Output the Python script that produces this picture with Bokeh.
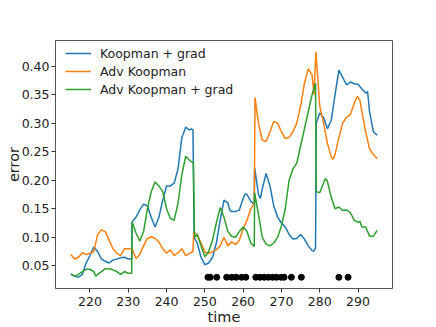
from bokeh.plotting import figure
from bokeh.models import FixedTicker, PrintfTickFormatter, Legend, LegendItem
from bokeh.embed import file_html
from bokeh.resources import INLINE

# Koopman + grad
t_blue = [215, 216, 217, 218, 219, 220, 221, 222, 223, 224, 225, 226, 228, 229, 230, 230.9,
          231.0, 232, 233, 234, 235, 236, 237, 238, 239, 240, 241, 242, 243, 244, 245, 246, 246.5, 246.9,
          247.2, 248, 249, 250, 251, 252, 253, 254, 255, 256, 256.5, 257, 258, 259, 260, 260.5, 261, 262, 262.9,
          263.0, 264, 264.5, 265, 266, 267, 268, 269, 270, 271, 272, 273, 274, 275, 276, 277, 278, 278.5, 278.9,
          279.1, 280, 281, 282, 283, 284, 285, 286, 287, 288, 289, 290, 291, 292, 292.5, 293, 294, 295]
e_blue = [0.036, 0.032, 0.030, 0.035, 0.055, 0.068, 0.083, 0.075, 0.062, 0.058, 0.055, 0.060, 0.064, 0.065, 0.062, 0.062,
          0.127, 0.135, 0.148, 0.158, 0.155, 0.135, 0.118, 0.135, 0.165, 0.190, 0.190, 0.195, 0.220, 0.275, 0.293, 0.288, 0.290, 0.288,
          0.100, 0.090, 0.065, 0.052, 0.055, 0.065, 0.090, 0.130, 0.165, 0.160, 0.148, 0.145, 0.145, 0.148, 0.168, 0.176, 0.175, 0.163, 0.158,
          0.222, 0.175, 0.168, 0.185, 0.212, 0.190, 0.155, 0.135, 0.125, 0.118, 0.105, 0.097, 0.098, 0.105, 0.097, 0.085, 0.077, 0.076, 0.082,
          0.300, 0.318, 0.310, 0.290, 0.305, 0.350, 0.393, 0.380, 0.367, 0.372, 0.369, 0.368, 0.360, 0.353, 0.355, 0.320, 0.285, 0.279]

# Adv Koopman
t_orange = [215, 216, 217, 218, 219, 220, 221, 222, 223, 224, 225, 226, 227, 228, 229, 230, 231, 232, 233, 234, 235, 236,
            237, 238, 239, 240, 241, 242, 243, 244, 245, 246, 246.9, 247.1, 248, 249, 250, 251, 252, 253, 254, 255, 256,
            257, 258, 259, 260, 261, 262, 262.9, 263.1, 264, 265, 266, 267, 268, 269, 270, 271, 272, 273, 274, 275, 276,
            277, 278, 278.5, 279, 280, 281, 282, 283, 283.5, 284, 285, 286, 287, 288, 289, 289.8, 290.5, 291, 292, 293, 294, 295]
e_orange = [0.070, 0.062, 0.065, 0.073, 0.070, 0.072, 0.075, 0.105, 0.113, 0.110, 0.095, 0.080, 0.072, 0.068, 0.080, 0.080, 0.080, 0.063, 0.070, 0.085, 0.098, 0.101,
            0.098, 0.092, 0.080, 0.072, 0.078, 0.068, 0.073, 0.080, 0.068, 0.072, 0.075, 0.108, 0.105, 0.090, 0.074, 0.072, 0.075, 0.078, 0.085, 0.100, 0.085,
            0.092, 0.087, 0.095, 0.115, 0.130, 0.150, 0.160, 0.345, 0.300, 0.270, 0.268, 0.285, 0.303, 0.300, 0.285, 0.273, 0.275, 0.285, 0.300, 0.330, 0.370,
            0.395, 0.385, 0.350, 0.425, 0.330, 0.300, 0.265, 0.240, 0.237, 0.245, 0.275, 0.300, 0.310, 0.315, 0.335, 0.347, 0.340, 0.320, 0.285, 0.255, 0.245, 0.238]

# Adv Koopman + grad
t_green = [215, 216, 217, 218, 219, 220, 221, 221.5, 222, 223, 224, 225, 226, 227, 228, 229, 230, 230.9, 231.0, 232, 233, 234,
           235, 236, 237, 238, 239, 240, 241, 242, 243, 244, 245, 246, 247, 247.3, 248, 249, 250, 251, 252, 253, 254, 255,
           256, 257, 258, 259, 260, 261, 262, 262.9, 263.0, 264, 265, 266, 267, 268, 269, 270, 271, 272, 273, 274, 275, 276,
           277, 278, 278.9, 279.1, 280, 281, 281.5, 282, 283, 284, 285, 286, 287, 288, 289, 290, 290.5, 291, 292, 293, 294, 295]
e_green = [0.035, 0.032, 0.035, 0.040, 0.044, 0.044, 0.040, 0.032, 0.035, 0.040, 0.045, 0.045, 0.043, 0.040, 0.035, 0.040, 0.037, 0.037, 0.127, 0.108, 0.093, 0.110,
           0.150, 0.180, 0.197, 0.190, 0.180, 0.150, 0.133, 0.130, 0.160, 0.210, 0.242, 0.235, 0.230, 0.100, 0.105, 0.085, 0.066, 0.075, 0.095, 0.125, 0.152, 0.135,
           0.110, 0.102, 0.100, 0.110, 0.118, 0.110, 0.090, 0.084, 0.178, 0.140, 0.100, 0.088, 0.085, 0.090, 0.100, 0.120, 0.150, 0.200, 0.220, 0.230, 0.260, 0.290,
           0.320, 0.350, 0.370, 0.180, 0.178, 0.195, 0.203, 0.198, 0.170, 0.150, 0.153, 0.147, 0.148, 0.143, 0.130, 0.126, 0.128, 0.118, 0.118, 0.102, 0.102, 0.112]

# marker times
t_marks = [250.8, 251.4, 253.1, 255.7, 257.0, 258.2, 259.6, 260.7, 263.3, 264.4, 265.5, 266.6,
           267.7, 268.7, 269.9, 270.7, 272.6, 275.2, 285.0, 287.4]
e_marks = [0.03] * len(t_marks)

x_ticks = [220, 230, 240, 250, 260, 270, 280, 290]
y_ticks = [0.05, 0.10, 0.15, 0.20, 0.25, 0.30, 0.35, 0.40]

p = figure(width=436, height=327, output_backend="svg", toolbar_location=None,
           x_range=(211, 299), y_range=(0.0103, 0.4448),
           min_border_left=55, min_border_right=44, min_border_top=40, min_border_bottom=37)
p.background_fill_color = "white"
p.border_fill_color = "white"
p.outline_line_color = "#555555"
p.outline_line_width = 1
p.xgrid.visible = False
p.ygrid.visible = False

r1 = p.line(t_blue, e_blue, line_color="#1f77b4", line_width=1.5)
r2 = p.line(t_orange, e_orange, line_color="#ff7f0e", line_width=1.5)
r3 = p.line(t_green, e_green, line_color="#2ca02c", line_width=1.5)
p.scatter(t_marks, e_marks, size=6, fill_color="black", line_color="black")

for ax in (p.xaxis[0], p.yaxis[0]):
    ax.axis_line_color = "#555555"
    ax.major_tick_in = 0
    ax.major_tick_out = 4
    ax.minor_tick_line_color = None
    ax.major_tick_line_color = "#333333"
    ax.major_label_text_font = "DejaVu Sans"
    ax.major_label_text_font_size = "12.5px"
    ax.major_label_text_color = "#222222"
    ax.axis_label_text_font = "DejaVu Sans"
    ax.axis_label_text_font_size = "14.5px"
    ax.axis_label_text_font_style = "normal"
    ax.axis_label_text_color = "#222222"

p.xaxis.ticker = FixedTicker(ticks=x_ticks)
p.yaxis.ticker = FixedTicker(ticks=y_ticks)
p.yaxis.formatter = PrintfTickFormatter(format="%.2f")
p.xaxis.axis_label = "time"
p.yaxis.axis_label = "error"
p.xaxis.major_label_standoff = 4
p.xaxis.axis_label_standoff = 0
p.yaxis.major_label_standoff = 2
p.yaxis.axis_label_standoff = -3

legend = Legend(items=[LegendItem(label="Koopman + grad", renderers=[r1]),
                       LegendItem(label="Adv Koopman", renderers=[r2]),
                       LegendItem(label="Adv Koopman + grad", renderers=[r3])])
legend.margin = 0
legend.padding = 6
legend.spacing = 0
legend.glyph_width = 26
legend.glyph_height = 18
legend.label_height = 18
legend.label_standoff = 9
legend.label_text_font = "DejaVu Sans"
legend.label_text_font_size = "12.5px"
legend.label_text_color = "#222222"
legend.border_line_alpha = 0
legend.background_fill_alpha = 0
legend.location = (4, 184)
p.add_layout(legend)

open("out.html", "w").write(file_html(p, INLINE))
